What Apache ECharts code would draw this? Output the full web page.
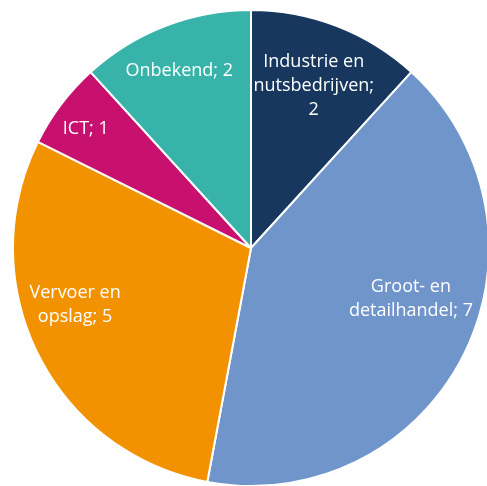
<!DOCTYPE html>
<html>
<head>
<meta charset="utf-8">
<script src="https://cdn.jsdelivr.net/npm/echarts@6/dist/echarts.min.js"></script>
<style>
	html, body { margin: 0; padding: 0; background: #fff; }
	#chartDom { width: 487px; height: 486px; }
</style>
</head>
<body>
<div id="chartDom"></div>
<script>
var categories = ['Industrie en nutsbedrijven', 'Groot- en detailhandel', 'Vervoer en opslag', 'ICT', 'Onbekend'];
var labelText = ['Industrie en\nnutsbedrijven;\n', 'Groot- en\ndetailhandel; ', 'Vervoer en\nopslag; ', 'ICT; ', 'Onbekend; '];
var values = [2, 7, 5, 1, 2];
var colors = ['#17375E', '#7095CB', '#F39200', '#C8106E', '#38B3A9'];
// nudges for the inside labels (Excel style "best fit")
var labelOffset = [[-3, 8], [-3, -30], [-13, -24], [-20, -9], [-6, -7]];

pieChart();

function pieChart() {
	var myChart = echarts.init(document.getElementById('chartDom'));
	var data = categories.map(function(name, i) {
		return { name: name, value: values[i], itemStyle: { color: colors[i] } };
	});
	var labelData = categories.map(function(name, i) {
		return { name: name, value: values[i], label: { offset: labelOffset[i] } };
	});
	var option = {
		animation: false,
		series: [{
				// visible pie
				type: 'pie',
				center: [251, 248],
				radius: [0, 238],
				startAngle: 90,
				clockwise: true,
				silent: true,
				itemStyle: {
					borderColor: '#fff',
					borderWidth: 2
				},
				label: { show: false },
				labelLine: { show: false },
				data: data
			},
			{
				// transparent ring used only to place labels further out
				type: 'pie',
				center: [251, 248],
				radius: [120, 238],
				startAngle: 90,
				clockwise: true,
				silent: true,
				itemStyle: { color: 'transparent' },
				label: {
					show: true,
					position: 'inside',
					color: '#fff',
					fontSize: 18,
					lineHeight: 24,
					fontFamily: 'Open Sans',
					formatter: function(p) {
						return labelText[p.dataIndex] + p.value;
					}
				},
				labelLine: { show: false },
				data: labelData
			}
		]
	};
	myChart.setOption(option, true);
}
</script>
</body>
</html>
